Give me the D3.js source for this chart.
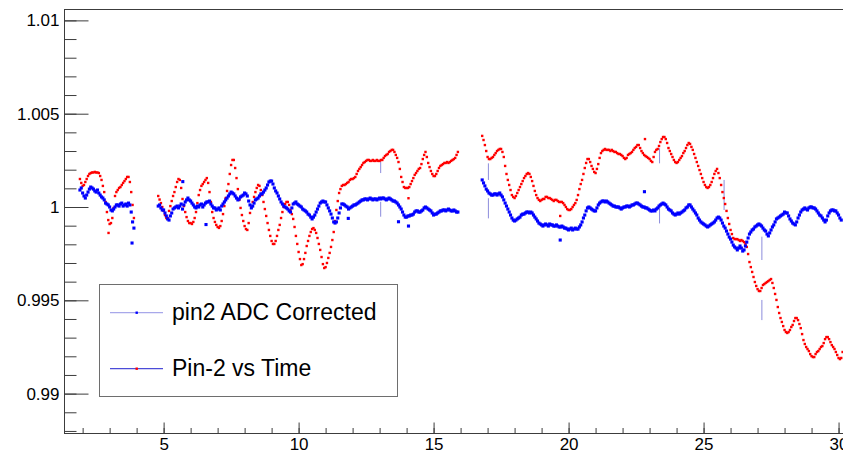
<!DOCTYPE html>
<html>
<head>
<meta charset="utf-8">
<script src="https://cdn.jsdelivr.net/npm/d3@7"></script>
<style>
  html, body { margin: 0; padding: 0; background: #fff; overflow: hidden; }
  svg { display: block; font-family: "Liberation Sans", Arial, Helvetica, sans-serif; }
</style>
</head>
<body>
<svg id="chart" width="843" height="454"></svg>
<script>
// ---- sample times (hours) for the three acquisition runs ----
const timesA = [1.9,2.0,2.1,2.2,2.3,2.4,2.5,2.6,2.7,2.8,2.9,3.0,3.1,3.2,3.3,3.4,3.5,3.6,3.7,3.8,3.9];
const timesB = [4.8,4.9,
  5.0,5.1,5.2,5.3,5.4,5.5,5.6,5.7,5.8,5.9,
  6.0,6.1,6.2,6.3,6.4,6.5,6.6,6.7,6.8,6.9,
  7.0,7.1,7.2,7.3,7.4,7.5,7.6,7.7,7.8,7.9,
  8.0,8.1,8.2,8.3,8.4,8.5,8.6,8.7,8.8,8.9,
  9.0,9.1,9.2,9.3,9.4,9.5,9.6,9.7,9.8,9.9,
  10.0,10.1,10.2,10.3,10.4,10.5,10.6,10.7,10.8,10.9,
  11.0,11.1,11.2,11.3,11.4,11.5,11.6,11.7,11.8,11.9,
  12.0,12.1,12.2,12.3,12.4,12.5,12.6,12.7,12.8,12.9,
  13.0,13.1,13.2,13.3,13.4,13.5,13.6,13.7,13.8,13.9,
  14.0,14.1,14.2,14.3,14.4,14.5,14.6,14.7,14.8,14.9,
  15.0,15.1,15.2,15.3,15.4,15.5,15.6,15.7,15.8,15.9];
const timesC = [16.8,16.9,
  17.0,17.1,17.2,17.3,17.4,17.5,17.6,17.7,17.8,17.9,
  18.0,18.1,18.2,18.3,18.4,18.5,18.6,18.7,18.8,18.9,
  19.0,19.1,19.2,19.3,19.4,19.5,19.6,19.7,19.8,19.9,
  20.0,20.1,20.2,20.3,20.4,20.5,20.6,20.7,20.8,20.9,
  21.0,21.1,21.2,21.3,21.4,21.5,21.6,21.7,21.8,21.9,
  22.0,22.1,22.2,22.3,22.4,22.5,22.6,22.7,22.8,22.9,
  23.0,23.1,23.2,23.3,23.4,23.5,23.6,23.7,23.8,23.9,
  24.0,24.1,24.2,24.3,24.4,24.5,24.6,24.7,24.8,24.9,
  25.0,25.1,25.2,25.3,25.4,25.5,25.6,25.7,25.8,25.9,
  26.0,26.1,26.2,26.3,26.4,26.5,26.6,26.7,26.8,26.9,
  27.0,27.1,27.2,27.3,27.4,27.5,27.6,27.7,27.8,27.9,
  28.0,28.1,28.2,28.3,28.4,28.5,28.6,28.7,28.8,28.9,
  29.0,29.1,29.2,29.3,29.4,29.5,29.6,29.7,29.8,29.9,
  30.0,30.1];
// intermediate samples of the same runs
const timesAm = [1.95,2.05,2.15,2.25,2.35,2.45,2.55,2.65,2.75,2.85,2.95,3.05,3.15,3.25,3.35,3.45,3.55,3.65,3.75,3.85];
const timesBm = [4.85,4.95,
  5.05,5.15,5.25,5.35,5.45,5.55,5.65,5.75,5.85,5.95,
  6.05,6.15,6.25,6.35,6.45,6.55,6.65,6.75,6.85,6.95,
  7.05,7.15,7.25,7.35,7.45,7.55,7.65,7.75,7.85,7.95,
  8.05,8.15,8.25,8.35,8.45,8.55,8.65,8.75,8.85,8.95,
  9.05,9.15,9.25,9.35,9.45,9.55,9.65,9.75,9.85,9.95,
  10.05,10.15,10.25,10.35,10.45,10.55,10.65,10.75,10.85,10.95,
  11.05,11.15,11.25,11.35,11.45,11.55,11.65,11.75,11.85,11.95,
  12.05,12.15,12.25,12.35,12.45,12.55,12.65,12.75,12.85,12.95,
  13.05,13.15,13.25,13.35,13.45,13.55,13.65,13.75,13.85,13.95,
  14.05,14.15,14.25,14.35,14.45,14.55,14.65,14.75,14.85,14.95,
  15.05,15.15,15.25,15.35,15.45,15.55,15.65,15.75,15.85];
const timesCm = [16.85,16.95,
  17.05,17.15,17.25,17.35,17.45,17.55,17.65,17.75,17.85,17.95,
  18.05,18.15,18.25,18.35,18.45,18.55,18.65,18.75,18.85,18.95,
  19.05,19.15,19.25,19.35,19.45,19.55,19.65,19.75,19.85,19.95,
  20.05,20.15,20.25,20.35,20.45,20.55,20.65,20.75,20.85,20.95,
  21.05,21.15,21.25,21.35,21.45,21.55,21.65,21.75,21.85,21.95,
  22.05,22.15,22.25,22.35,22.45,22.55,22.65,22.75,22.85,22.95,
  23.05,23.15,23.25,23.35,23.45,23.55,23.65,23.75,23.85,23.95,
  24.05,24.15,24.25,24.35,24.45,24.55,24.65,24.75,24.85,24.95,
  25.05,25.15,25.25,25.35,25.45,25.55,25.65,25.75,25.85,25.95,
  26.05,26.15,26.25,26.35,26.45,26.55,26.65,26.75,26.85,26.95,
  27.05,27.15,27.25,27.35,27.45,27.55,27.65,27.75,27.85,27.95,
  28.05,28.15,28.25,28.35,28.45,28.55,28.65,28.75,28.85,28.95,
  29.05,29.15,29.25,29.35,29.45,29.55,29.65,29.75,29.85,29.95,
  30.05];

// ---- Pin-2 vs Time (raw, normalised) ----
const rawA = [1.00150,1.00113,1.00134,1.00166,1.00182,1.00185,1.00185,1.00182,1.00145,1.00080,
  0.99973,0.99909,0.99941,1.00059,1.00091,1.00107,1.00129,1.00150,1.00161,1.00080,0.99941];
const rawB = [1.00059,1.00021,
  0.99979,0.99941,0.99979,1.00032,1.00080,1.00134,1.00145,1.00043,0.99973,0.99925,
  0.99914,0.99920,0.99973,1.00064,1.00113,1.00134,1.00155,1.00080,0.99973,0.99920,
  0.99893,0.99898,0.99962,1.00048,1.00123,1.00225,1.00252,1.00155,1.00038,0.99957,
  0.99898,0.99877,0.99968,1.00027,1.00080,1.00118,1.00091,1.00027,0.99952,0.99877,
  0.99818,0.99802,0.99845,0.99904,0.99973,1.00016,1.00027,0.99984,0.99936,0.99845,
  0.99759,0.99689,0.99721,0.99791,0.99845,0.99882,0.99877,0.99834,0.99770,0.99694,
  0.99678,0.99727,0.99786,0.99866,0.99984,1.00075,1.00113,1.00118,1.00129,1.00145,
  1.00150,1.00161,1.00193,1.00214,1.00236,1.00247,1.00252,1.00247,1.00247,1.00252,
  1.00247,1.00252,1.00273,1.00284,1.00300,1.00306,1.00279,1.00241,1.00161,1.00107,
  1.00102,1.00107,1.00139,1.00172,1.00193,1.00209,1.00257,1.00295,1.00236,1.00193,
  1.00166,1.00177,1.00209,1.00225,1.00236,1.00241,1.00241,1.00252,1.00263,1.00295];
const rawC = [1.00381,1.00332,
  1.00268,1.00257,1.00268,1.00289,1.00306,1.00311,1.00268,1.00177,1.00118,1.00064,
  1.00048,1.00075,1.00107,1.00139,1.00166,1.00182,1.00161,1.00113,1.00064,1.00038,
  1.00038,1.00043,1.00054,1.00048,1.00038,1.00038,1.00032,1.00027,1.00021,1.00000,
  0.99984,0.99989,1.00011,1.00038,1.00096,1.00145,1.00209,1.00257,1.00241,1.00204,
  1.00182,1.00230,1.00289,1.00306,1.00306,1.00306,1.00306,1.00295,1.00289,1.00284,
  1.00273,1.00257,1.00279,1.00289,1.00306,1.00322,1.00332,1.00300,1.00279,1.00268,
  1.00257,1.00241,1.00295,1.00311,1.00348,1.00375,1.00364,1.00316,1.00284,1.00252,
  1.00236,1.00252,1.00273,1.00300,1.00332,1.00338,1.00306,1.00263,1.00220,1.00177,
  1.00134,1.00107,1.00107,1.00134,1.00177,1.00204,1.00155,1.00080,1.00016,0.99941,
  0.99877,0.99834,0.99828,0.99823,0.99823,0.99812,0.99786,0.99705,0.99652,0.99598,
  0.99560,0.99550,0.99582,0.99593,0.99603,0.99614,0.99566,0.99502,0.99432,0.99384,
  0.99341,0.99325,0.99341,0.99368,0.99405,0.99394,0.99351,0.99287,0.99250,0.99228,
  0.99201,0.99196,0.99223,0.99239,0.99255,0.99292,0.99303,0.99276,0.99250,0.99223,
  0.99191,0.99191];
const rawAm = [1.00129,1.00118,1.00150,1.00177,1.00185,1.00188,1.00185,1.00166,1.00113,1.00027,
  0.99930,0.99914,0.99995,1.00080,1.00102,1.00118,1.00139,1.00161,1.00134,1.00011];
const rawBm = [1.00040,1.00000,
  0.99957,0.99941,1.00005,1.00059,1.00107,1.00150,1.00102,1.00005,0.99946,0.99914,
  0.99909,0.99941,1.00021,1.00091,1.00123,1.00145,1.00129,1.00027,0.99941,0.99904,
  0.99888,0.99925,1.00005,1.00086,1.00177,1.00252,1.00209,1.00096,0.99995,0.99925,
  0.99882,0.99914,1.00000,1.00054,1.00102,1.00113,1.00064,0.99989,0.99914,0.99845,
  0.99802,0.99818,0.99877,0.99941,1.00000,1.00027,1.00011,0.99962,0.99893,0.99802,
  0.99721,0.99694,0.99754,0.99818,0.99866,0.99887,0.99861,0.99802,0.99732,0.99673,
  0.99700,0.99754,0.99823,0.99925,1.00032,1.00096,1.00118,1.00123,1.00134,1.00150,
  1.00155,1.00177,1.00204,1.00225,1.00241,1.00252,1.00247,1.00252,1.00247,1.00247,
  1.00252,1.00263,1.00279,1.00295,1.00306,1.00295,1.00263,1.00204,1.00134,1.00102,
  1.00102,1.00123,1.00155,1.00182,1.00204,1.00230,1.00279,1.00268,1.00214,1.00177,
  1.00166,1.00193,1.00220,1.00230,1.00236,1.00236,1.00247,1.00257,1.00279];
const rawCm = [1.00359,1.00300,
  1.00257,1.00263,1.00279,1.00300,1.00311,1.00295,1.00220,1.00145,1.00091,1.00054,
  1.00059,1.00091,1.00123,1.00155,1.00177,1.00177,1.00139,1.00086,1.00048,1.00032,
  1.00043,1.00054,1.00048,1.00043,1.00032,1.00038,1.00027,1.00027,1.00011,0.99989,
  0.99984,1.00000,1.00021,1.00064,1.00123,1.00177,1.00236,1.00257,1.00220,1.00188,
  1.00204,1.00263,1.00300,1.00311,1.00306,1.00300,1.00300,1.00295,1.00284,1.00279,
  1.00263,1.00263,1.00284,1.00295,1.00316,1.00332,1.00316,1.00289,1.00273,1.00263,
  1.00247,1.00268,1.00306,1.00327,1.00364,1.00375,1.00343,1.00300,1.00268,1.00241,
  1.00241,1.00263,1.00289,1.00316,1.00343,1.00322,1.00284,1.00241,1.00198,1.00155,
  1.00118,1.00102,1.00118,1.00155,1.00193,1.00182,1.00118,1.00048,0.99979,0.99909,
  0.99855,0.99828,0.99828,0.99818,0.99818,0.99802,0.99748,0.99678,0.99625,0.99577,
  0.99550,0.99566,0.99587,0.99598,0.99609,0.99593,0.99534,0.99464,0.99405,0.99362,
  0.99330,0.99330,0.99357,0.99389,0.99405,0.99373,0.99319,0.99266,0.99239,0.99212,
  0.99196,0.99212,0.99228,0.99250,0.99271,0.99303,0.99292,0.99260,0.99239,0.99207,
  0.99185];
const rawStray = [[2.96,0.99861],[14.07,1.00047],[19.69,0.99952],[22.83,1.00364],[30.15,0.99223]];

// ---- pin2 ADC Corrected ----
const corrA = [1.00091,1.00075,1.00048,1.00080,1.00107,1.00096,1.00080,1.00075,1.00054,1.00038,
  1.00016,1.00000,0.99979,1.00000,1.00011,1.00016,1.00005,1.00016,1.00021,0.99973,0.99887];
const corrB = [1.00005,0.99995,
  0.99984,0.99952,0.99930,0.99968,0.99995,1.00005,1.00005,0.99989,1.00027,1.00048,
  1.00032,1.00011,0.99995,1.00000,1.00016,1.00011,1.00027,1.00032,1.00005,0.99995,
  0.99989,0.99984,1.00016,1.00038,1.00059,1.00080,1.00070,1.00048,1.00043,1.00059,
  1.00075,1.00059,1.00011,1.00005,1.00038,1.00048,1.00070,1.00080,1.00102,1.00134,
  1.00139,1.00102,1.00075,1.00043,1.00016,1.00000,0.99989,0.99973,1.00016,1.00027,
  1.00011,1.00000,0.99984,0.99973,0.99957,0.99936,0.99957,0.99989,1.00021,1.00032,
  1.00027,0.99995,0.99962,0.99920,0.99920,0.99968,1.00016,1.00011,1.00000,0.99995,
  1.00005,1.00011,1.00021,1.00032,1.00038,1.00043,1.00043,1.00043,1.00043,1.00038,
  1.00048,1.00048,1.00043,1.00043,1.00043,1.00032,1.00027,1.00011,0.99989,0.99957,
  0.99946,0.99952,0.99957,0.99973,0.99979,0.99973,0.99984,1.00000,0.99989,0.99979,
  0.99957,0.99962,0.99973,0.99979,0.99984,0.99984,0.99984,0.99979,0.99979,0.99973];
const corrC = [1.00145,1.00113,
  1.00086,1.00070,1.00064,1.00070,1.00070,1.00064,1.00038,1.00005,0.99973,0.99941,
  0.99925,0.99936,0.99946,0.99962,0.99968,0.99973,0.99973,0.99957,0.99936,0.99914,
  0.99904,0.99904,0.99904,0.99909,0.99904,0.99898,0.99898,0.99893,0.99893,0.99887,
  0.99877,0.99887,0.99882,0.99882,0.99893,0.99920,0.99957,0.99995,0.99995,0.99984,
  0.99979,1.00011,1.00027,1.00032,1.00032,1.00021,1.00011,1.00005,1.00000,0.99995,
  0.99995,1.00000,1.00005,1.00005,1.00011,1.00021,1.00016,1.00005,1.00000,0.99995,
  0.99984,0.99979,0.99979,0.99995,1.00011,1.00021,1.00011,0.99989,0.99979,0.99962,
  0.99962,0.99962,0.99973,0.99984,1.00000,1.00011,0.99989,0.99968,0.99941,0.99920,
  0.99909,0.99898,0.99898,0.99909,0.99920,0.99941,0.99941,0.99914,0.99887,0.99855,
  0.99828,0.99796,0.99780,0.99780,0.99780,0.99770,0.99812,0.99855,0.99877,0.99893,
  0.99904,0.99904,0.99887,0.99871,0.99845,0.99877,0.99904,0.99936,0.99946,0.99957,
  0.99973,0.99968,0.99936,0.99914,0.99904,0.99941,0.99973,0.99989,0.99989,0.99995,
  1.00000,0.99995,0.99979,0.99957,0.99941,0.99920,0.99952,0.99979,0.99984,0.99979,
  0.99957,0.99930];
const corrAm = [1.00102,1.00059,1.00064,1.00096,1.00102,1.00086,1.00091,1.00064,1.00048,1.00021,
  1.00011,0.99984,0.99989,1.00011,1.00005,1.00021,1.00011,1.00005,1.00011,0.99920];
const corrBm = [1.00011,0.99984,
  0.99968,0.99936,0.99952,0.99989,1.00000,0.99995,1.00016,1.00011,1.00038,1.00038,
  1.00021,1.00000,1.00005,1.00011,1.00000,1.00021,1.00027,1.00016,0.99995,0.99984,
  0.99995,1.00005,1.00027,1.00048,1.00070,1.00075,1.00059,1.00038,1.00054,1.00064,
  1.00070,1.00032,0.99995,1.00021,1.00043,1.00059,1.00070,1.00091,1.00118,1.00139,
  1.00123,1.00086,1.00059,1.00027,1.00005,0.99995,0.99979,0.99995,1.00021,1.00016,
  1.00005,0.99989,0.99979,0.99962,0.99946,0.99946,0.99973,1.00005,1.00027,1.00027,
  1.00011,0.99979,0.99941,0.99914,0.99941,0.99995,1.00016,1.00005,0.99989,1.00000,
  1.00011,1.00016,1.00027,1.00038,1.00043,1.00038,1.00048,1.00038,1.00043,1.00043,
  1.00043,1.00048,1.00038,1.00048,1.00038,1.00032,1.00021,1.00000,0.99973,0.99946,
  0.99952,0.99957,0.99962,0.99979,0.99973,0.99979,0.99995,0.99995,0.99984,0.99968,
  0.99962,0.99968,0.99979,0.99984,0.99979,0.99989,0.99979,0.99984,0.99973];
const corrCm = [1.00129,1.00096,
  1.00075,1.00064,1.00070,1.00064,1.00075,1.00054,1.00021,0.99989,0.99957,0.99930,
  0.99930,0.99941,0.99957,0.99962,0.99973,0.99968,0.99968,0.99946,0.99925,0.99909,
  0.99898,0.99909,0.99898,0.99904,0.99898,0.99904,0.99893,0.99898,0.99887,0.99882,
  0.99882,0.99877,0.99887,0.99882,0.99904,0.99941,0.99979,1.00000,0.99989,0.99979,
  0.99995,1.00021,1.00032,1.00027,1.00027,1.00016,1.00005,1.00000,1.00000,0.99989,
  1.00000,1.00005,1.00000,1.00011,1.00016,1.00021,1.00011,1.00000,0.99995,0.99989,
  0.99979,0.99984,0.99989,1.00005,1.00016,1.00016,1.00000,0.99984,0.99968,0.99957,
  0.99968,0.99968,0.99979,0.99995,1.00011,1.00000,0.99979,0.99957,0.99930,0.99914,
  0.99904,0.99893,0.99904,0.99914,0.99930,0.99946,0.99930,0.99898,0.99871,0.99839,
  0.99812,0.99786,0.99770,0.99791,0.99764,0.99791,0.99834,0.99866,0.99882,0.99898,
  0.99909,0.99898,0.99877,0.99855,0.99861,0.99893,0.99920,0.99941,0.99952,0.99962,
  0.99968,0.99952,0.99925,0.99909,0.99920,0.99957,0.99984,0.99995,0.99984,1.00000,
  0.99995,0.99989,0.99968,0.99952,0.99930,0.99930,0.99968,0.99984,0.99979,0.99968,
  0.99941];
const corrStray = [[3.83,0.99807],[5.71,1.00136],[6.57,0.99906],[11.84,0.99939],[13.70,0.99921],
  [14.07,0.99898],[19.69,0.99823],[22.81,1.00082]];

// readout spikes: [time, upper value, lower value]
const spikes = [[13.04,1.00243,1.00182],[13.04,1.00028,0.99948],[17.03,1.00234,1.00145],
  [17.03,1.00047,0.99939],[23.37,1.00315,1.00234],[23.37,1.00002,0.99912],
  [25.76,1.00145,0.99984],[27.16,0.99841,0.99716],[27.16,0.99502,0.99394]];

// ---- axes ----
const xTickValues = [5, 10, 15, 20, 25, 30];
const xTickLabels = ["5", "10", "15", "20", "25", "30"];
const yTickValues = [0.99, 0.995, 1, 1.005, 1.01];
const yTickLabels = ["0.99", "0.995", "1", "1.005", "1.01"];
const legendLabels = ["pin2 ADC Corrected", "Pin-2 vs Time"];

// ---- drawing ----
const svg = d3.select("#chart");
const frame = { left: 64, top: 9, right: 848, bottom: 433 };

const x = d3.scaleLinear().domain([1.31, 30.35]).range([frame.left, frame.right]);
const y = d3.scaleLinear().domain([0.98789, 1.01061]).range([frame.bottom, frame.top]);

const axisColor = "#3c3c3c";

// frame
svg.append("rect")
  .attr("x", frame.left + 0.5).attr("y", frame.top + 0.5)
  .attr("width", frame.right - frame.left).attr("height", frame.bottom - frame.top)
  .attr("fill", "none").attr("stroke", axisColor).attr("stroke-width", 1);

function styleAxis(g) {
  g.select(".domain").remove();
  g.selectAll(".tick line").attr("stroke", axisColor).attr("stroke-width", 1);
  g.selectAll(".tick text").attr("fill", "#000").attr("font-size", 17)
    .attr("font-family", '"Liberation Sans", Arial, Helvetica, sans-serif');
}

// y axis: minor ticks every 0.001, major every 0.005
const yMinor = d3.range(988, 1011).map(d => d / 1000);
svg.append("g").attr("transform", `translate(${frame.left + 0.5},0)`)
  .call(d3.axisLeft(y).tickValues(yMinor).tickSize(-12).tickFormat(""))
  .call(styleAxis);
svg.append("g").attr("transform", `translate(${frame.left + 0.5},0)`)
  .call(d3.axisLeft(y).tickValues(yTickValues).tickSize(-24).tickPadding(5)
    .tickFormat((d, i) => yTickLabels[i]))
  .call(styleAxis);

// x axis: minor ticks every 1, major every 5
const xMinor = d3.range(2, 31);
svg.append("g").attr("transform", `translate(0,${frame.bottom + 0.5})`)
  .call(d3.axisBottom(x).tickValues(xMinor).tickSize(-5.5).tickFormat(""))
  .call(styleAxis);
svg.append("g").attr("transform", `translate(0,${frame.bottom + 0.5})`)
  .call(d3.axisBottom(x).tickValues(xTickValues).tickSize(-11).tickPadding(4)
    .tickFormat((d, i) => xTickLabels[i]))
  .call(styleAxis);

// plot area clip
svg.append("clipPath").attr("id", "plotClip")
  .append("rect").attr("x", frame.left + 1).attr("y", frame.top + 1)
  .attr("width", frame.right - frame.left - 1).attr("height", frame.bottom - frame.top - 1);
const plot = svg.append("g").attr("clip-path", "url(#plotClip)");

function pairs(times, values) { return times.map((t, i) => [t, values[i]]); }
const rawPoints = [
  ...pairs(timesA, rawA), ...pairs(timesB, rawB), ...pairs(timesC, rawC),
  ...pairs(timesAm, rawAm), ...pairs(timesBm, rawBm), ...pairs(timesCm, rawCm),
  ...rawStray];
const corrPoints = [
  ...pairs(timesA, corrA), ...pairs(timesB, corrB), ...pairs(timesC, corrC),
  ...pairs(timesAm, corrAm), ...pairs(timesBm, corrBm), ...pairs(timesCm, corrCm),
  ...corrStray];

// spikes
plot.append("g").selectAll("line").data(spikes).join("line")
  .attr("x1", d => x(d[0])).attr("x2", d => x(d[0]))
  .attr("y1", d => y(d[1])).attr("y2", d => y(d[2]))
  .attr("stroke", "#8c8cdc").attr("stroke-width", 1);

function drawMarkers(points, color, size) {
  plot.append("g").selectAll("rect").data(points).join("rect")
    .attr("x", d => x(d[0]) - size / 2).attr("y", d => y(d[1]) - size / 2)
    .attr("width", size).attr("height", size).attr("fill", color);
}
drawMarkers(rawPoints, "#ff0000", 2.4);
drawMarkers(corrPoints, "#0000ff", 3.1);

// legend
const legend = svg.append("g");
legend.append("rect").attr("x", 99.5).attr("y", 284.5).attr("width", 298).attr("height", 112)
  .attr("fill", "#fff").attr("stroke", "#6e6e6e").attr("stroke-width", 1);
const legendItems = [
  { label: legendLabels[0], line: "#a8a8ea", marker: "#0000ff", cy: 312.7 },
  { label: legendLabels[1], line: "#4c4cd8", marker: "#ff0000", cy: 368.7 }
];
legendItems.forEach(it => {
  legend.append("line").attr("x1", 110).attr("x2", 163).attr("y1", it.cy).attr("y2", it.cy)
    .attr("stroke", it.line).attr("stroke-width", 1.2);
  legend.append("rect").attr("x", 135.5).attr("y", it.cy - 1.2).attr("width", 2.4).attr("height", 2.4)
    .attr("fill", it.marker);
  legend.append("text").attr("x", 172).attr("y", it.cy + 7.6).attr("font-size", 23)
    .attr("fill", "#000").text(it.label);
});
</script>
</body>
</html>
